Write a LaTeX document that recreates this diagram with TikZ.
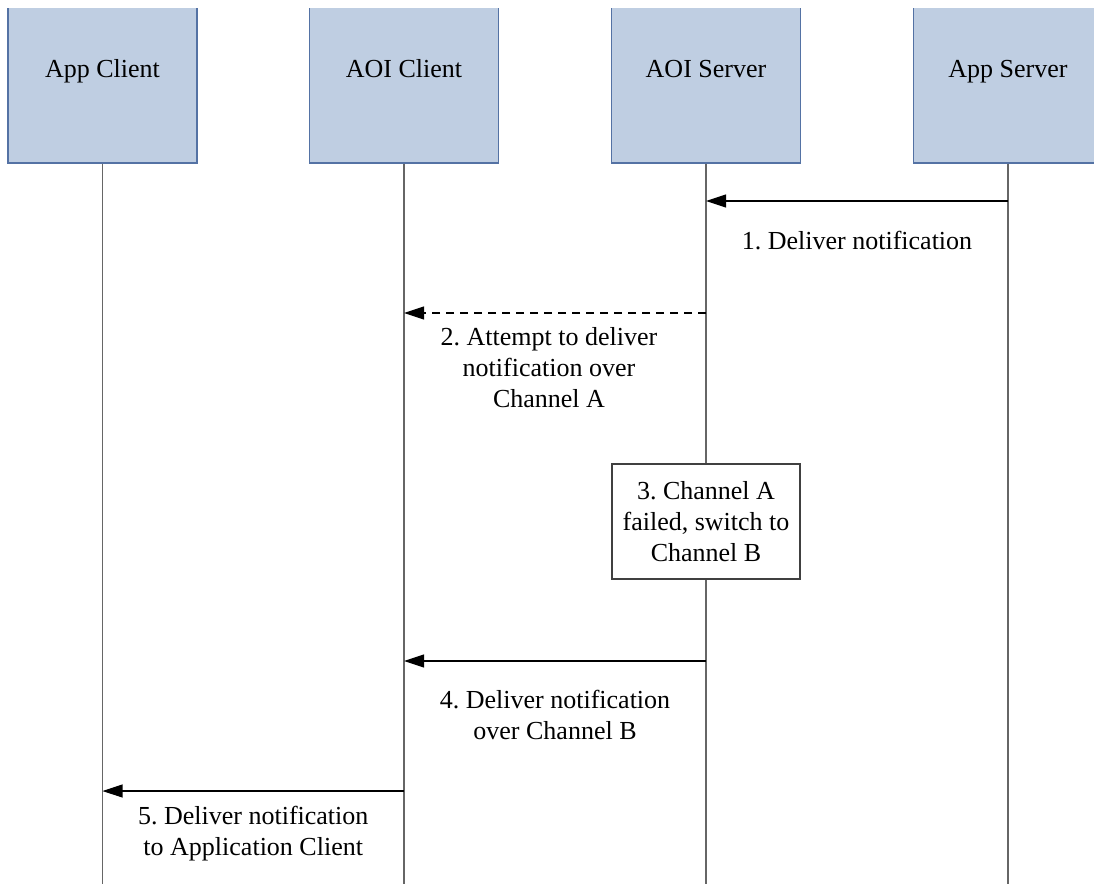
\documentclass[tikz,border=0pt]{standalone}
\usepackage{fontspec}
\setmainfont{Liberation Serif}
\usetikzlibrary{arrows.meta}
\usetikzlibrary{positioning}
\definecolor{boxColor}{RGB}{191,206,226}
\definecolor{boxBorder}{RGB}{84,114,164}
\definecolor{lifeColor}{gray}{0.4}
\frenchspacing

\begin{document}
\begin{tikzpicture}[x=1pt,y=-1pt,
	font=\fontsize{26}{31}\selectfont,
	actor/.style={fill=boxColor,draw=boxBorder,line width=1.2pt,minimum width=189pt,minimum height=184pt,text height=18pt,text depth=6pt,inner sep=0pt},
	lifeLine/.style={draw=lifeColor,line width=1.2pt},
	msgArrow/.style={draw=black,line width=1.1pt,-{Triangle[length=20pt,width=13pt]}},
	msgText/.style={align=center,inner sep=0pt,anchor=north},
	noteBox/.style={draw=black!75,fill=white,line width=1.2pt,align=center,minimum width=188pt,minimum height=115pt,inner sep=0pt}]
\useasboundingbox (0,0) rectangle (1094,884);
%
\begin{scope}
\clip (0,8) rectangle (1094,884);
\node[actor] (appClient) at (102.5,71) {App Client};
\node[actor] (aoiClient) at (404,71) {AOI Client};
\node[actor] (aoiServer) at (706,71) {AOI Server};
\node[actor] (appServer) at (1008,71) {App Server};
\end{scope}
%
\foreach \a in {appClient,aoiClient,aoiServer,appServer} {
	\coordinate (\a-end) at (\a.south |- 0,884);
	\draw[lifeLine] (\a.south) -- (\a-end);
}
%
\coordinate (m1s) at (appServer |- 0,201);
\coordinate (m1e) at (aoiServer |- 0,201);
\draw[msgArrow] (m1s) -- (m1e) node[midway,msgText,below=30pt] (lab1) {1. Deliver notification};
\coordinate (m2s) at (aoiServer |- 0,313);
\coordinate (m2e) at (aoiClient |- 0,313);
\draw[msgArrow,dash pattern=on 8pt off 6pt] (m2s) -- (m2e) node[midway,msgText,below=14pt,xshift=-6pt] (lab2) {2. Attempt to deliver\\notification over\\Channel A};
\node[noteBox] (note3) at (aoiServer |- 0,521.5) {3. Channel A\\failed, switch to\\Channel B};
\coordinate (m4s) at (aoiServer |- 0,661);
\coordinate (m4e) at (aoiClient |- 0,661);
\draw[msgArrow] (m4s) -- (m4e) node[midway,msgText,below=29pt] (lab4) {4. Deliver notification\\over Channel B};
\coordinate (m5s) at (aoiClient |- 0,791);
\coordinate (m5e) at (appClient |- 0,791);
\draw[msgArrow] (m5s) -- (m5e) node[midway,msgText,below=15pt] (lab5) {5. Deliver notification\\to Application Client};
%
\end{tikzpicture}
\end{document}
